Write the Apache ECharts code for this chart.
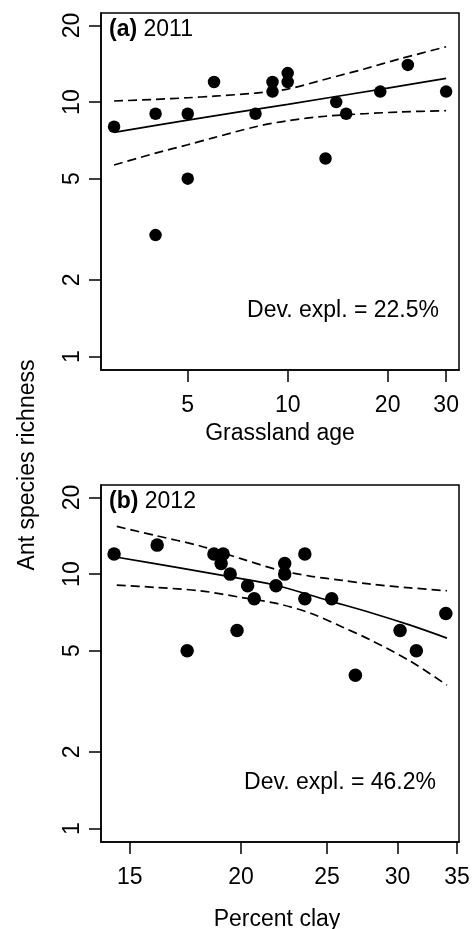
<!DOCTYPE html>
<html>
<head>
<meta charset="utf-8">
<script src="https://cdn.jsdelivr.net/npm/echarts@6/dist/echarts.min.js"></script>
<style>
  html, body { margin: 0; padding: 0; background: #fff; }
  #chart { width: 476px; height: 929px; }
</style>
</head>
<body>
<div id="chart"></div>
<script>
// panel (a) 2011
const ageA = [3, 4, 4, 5, 5, 6, 8, 9, 9, 10, 10, 13, 14, 15, 19, 23, 30];
const richA = [8, 9, 3, 9, 5, 12, 9, 12, 11, 13, 12, 6, 10, 9, 11, 14, 11];
const fitAgeX = [3, 5, 10, 20, 30];
const fitA = [7.6, 8.5, 9.8, 11.35, 12.4];
const ciAgeX = [3, 4, 5, 6, 8, 10, 13, 17, 22, 30];
const upA = [10.1, 10.25, 10.4, 10.55, 10.85, 11.25, 12.3, 13.5, 14.85, 16.5];
const loA = [5.66, 6.3, 6.8, 7.25, 8.0, 8.45, 8.8, 9.0, 9.15, 9.25];

// panel (b) 2012
const clayB = [14.4, 16.1, 17.4, 18.65, 19.1, 19.0, 19.45, 19.8, 20.35, 20.7, 21.9, 22.4, 22.4, 23.6, 23.6, 25.3, 26.9, 30.2, 31.5, 34.0];
const richB = [12, 13, 5, 12, 12, 11, 10, 6, 9, 8, 9, 11, 10, 12, 8, 8, 4, 6, 5, 7];
const fitClayX = [14.4, 17, 20, 22, 25, 28, 31, 34.1];
const fitB = [11.7, 10.6, 9.6, 9.0, 7.9, 7.05, 6.3, 5.6];
const ciClayX = [14.5, 16, 18, 20, 22, 24, 26, 28, 31, 34.1];
const upB = [15.4, 14.2, 12.9, 11.5, 10.4, 9.8, 9.45, 9.13, 8.83, 8.6];
const loB = [9.05, 8.87, 8.6, 8.1, 7.65, 7.0, 6.2, 5.5, 4.55, 3.66];

const ageTicks = [5, 10, 20, 30];
const clayTicks = [15, 20, 25, 30, 35];
const richTicks = [1, 2, 5, 10, 20];

const font = 'Liberation Sans, Arial, sans-serif';
const zip = (xs, ys) => xs.map((x, i) => [x, ys[i]]);

const chart = echarts.init(document.getElementById('chart'));

const xAxisFor = (idx, min, max, ticks) => ({
  type: 'log',
  logBase: 10,
  gridIndex: idx,
  min: min,
  max: max,
  axisLine: { show: true, onZero: false, lineStyle: { color: '#000', width: 1.5 } },
  axisTick: { show: true, length: 12, customValues: ticks, lineStyle: { color: '#000', width: 1.5 } },
  axisLabel: { customValues: ticks, color: '#000', fontSize: 23, fontFamily: font, margin: 24 },
  splitLine: { show: false },
});

const yAxisFor = (idx) => ({
  type: 'log',
  logBase: 10,
  gridIndex: idx,
  min: 0.885,
  max: 22.4,
  axisLine: { show: true, onZero: false, lineStyle: { color: '#000', width: 1.5 } },
  axisTick: { show: true, length: 12, customValues: richTicks, lineStyle: { color: '#000', width: 1.5 } },
  axisLabel: { customValues: richTicks, rotate: 90, color: '#000', fontSize: 23, fontFamily: font, margin: 17 },
  splitLine: { show: false },
});

const dots = (idx, data, size) => ({
  type: 'scatter',
  xAxisIndex: idx,
  yAxisIndex: idx,
  data: data,
  symbolSize: size,
  itemStyle: { color: '#000', opacity: 1 },
  z: 3,
});

const curve = (idx, data, dashed) => ({
  type: 'line',
  xAxisIndex: idx,
  yAxisIndex: idx,
  data: data,
  smooth: 0.3,
  showSymbol: false,
  lineStyle: { color: '#000', width: 1.7, type: dashed ? [9, 5] : 'solid' },
  z: 2,
});

const option = {
  animation: false,
  backgroundColor: '#fff',
  grid: [
    { left: 101, top: 13, width: 358, height: 357, show: true, borderColor: '#000', borderWidth: 1.5 },
    { left: 101, top: 485, width: 358, height: 357, show: true, borderColor: '#000', borderWidth: 1.5 },
  ],
  xAxis: [xAxisFor(0, 2.74, 32.8, ageTicks), xAxisFor(1, 13.92, 35.18, clayTicks)],
  yAxis: [yAxisFor(0), yAxisFor(1)],
  series: [
    dots(0, zip(ageA, richA), 12.5),
    curve(0, zip(fitAgeX, fitA), false),
    curve(0, zip(ciAgeX, upA), true),
    curve(0, zip(ciAgeX, loA), true),
    dots(1, zip(clayB, richB), 13.5),
    curve(1, zip(fitClayX, fitB), false),
    curve(1, zip(ciClayX, upB), true),
    curve(1, zip(ciClayX, loB), true),
  ],
  graphic: [
    {
      type: 'text', left: 109, top: 18,
      style: { text: '{b|(a)} 2011', fill: '#000', font: '23px ' + font, rich: { b: { fontWeight: 'bold', fontSize: 23, fontFamily: font } } },
    },
    {
      type: 'text', left: 109, top: 490,
      style: { text: '{b|(b)} 2012', fill: '#000', font: '23px ' + font, rich: { b: { fontWeight: 'bold', fontSize: 23, fontFamily: font } } },
    },
    {
      type: 'text', right: 37, top: 299,
      style: { text: 'Dev. expl. = 22.5%', fill: '#000', font: '23px ' + font },
    },
    {
      type: 'text', right: 40, top: 771,
      style: { text: 'Dev. expl. = 46.2%', fill: '#000', font: '23px ' + font },
    },
    {
      type: 'text', x: 280, y: 434,
      style: { text: 'Grassland age', fill: '#000', font: '23px ' + font, align: 'center', verticalAlign: 'middle' },
    },
    {
      type: 'text', x: 277, y: 920,
      style: { text: 'Percent clay', fill: '#000', font: '23px ' + font, align: 'center', verticalAlign: 'middle' },
    },
    {
      type: 'text', x: 28, y: 465, rotation: Math.PI / 2,
      style: { text: 'Ant species richness', fill: '#000', font: '23px ' + font, align: 'center', verticalAlign: 'middle' },
    },
  ],
};

chart.setOption(option);
window.addEventListener('resize', chart.resize);
</script>
</body>
</html>
